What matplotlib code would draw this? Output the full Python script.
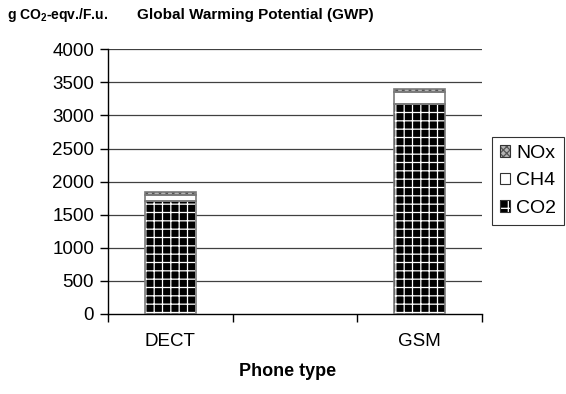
#!/usr/bin/env python3
"""Global Warming Potential per phone type, stacked CO2 / CH4 / NOx."""
import matplotlib
matplotlib.use("Agg")
import matplotlib.pyplot as plt
from matplotlib.patches import Patch
from matplotlib.legend_handler import HandlerTuple

plt.rcParams["font.family"] = ["Liberation Sans", "DejaVu Sans"]
plt.rcParams["mathtext.fontset"] = "custom"
plt.rcParams["mathtext.rm"] = "Liberation Sans"
plt.rcParams["mathtext.bf"] = "Liberation Sans:bold"
plt.rcParams["hatch.linewidth"] = 0.9

phones = ["DECT", "GSM"]
co2 = [1710, 3170]
ch4 = [86, 180]
nox = [41, 50]
yticks = [0, 500, 1000, 1500, 2000, 2500, 3000, 3500, 4000]

# DECT and GSM sit in the outer slots of a three-slot category axis
slots = [0, 2]
width = 0.41
outline = "#7a7a7a"

fig = plt.figure(figsize=(5.66, 3.94), dpi=100)
ax = fig.add_axes([108 / 566, 80 / 394, 374 / 566, 264.7 / 394])

bottom_ch4 = co2
bottom_nox = [a + b for a, b in zip(co2, ch4)]

ax.bar(slots, co2, width, color="black", edgecolor="white", hatch="++", linewidth=0, zorder=3)
ax.bar(slots, ch4, width, bottom=bottom_ch4, color="white", linewidth=0, zorder=3)
ax.bar(slots, nox, width, bottom=bottom_nox, color="#b5b5b5", edgecolor="#555555",
       hatch="xxxxx", linewidth=0, zorder=3)
for vals, bot in [(co2, None), (ch4, bottom_ch4), (nox, bottom_nox)]:
    ax.bar(slots, vals, width, bottom=bot, fill=False, edgecolor=outline, linewidth=1.2, zorder=4)

ax.set_ylim(0, 4000)
ax.set_xlim(-0.5, 2.5)
ax.set_yticks(yticks)
ax.set_yticklabels([str(v) for v in yticks])
ax.set_xticks(slots)
ax.set_xticklabels(phones)
ax.set_xticks([-0.5, 0.5, 1.5, 2.5], minor=True)
ax.tick_params(axis="x", which="major", length=0, pad=14, labelsize=13.5)
ax.tick_params(axis="x", which="minor", length=6, width=1, direction="out")
ax.tick_params(axis="y", length=6, width=1, pad=4, labelsize=13.5)

for v in yticks[1:]:
    ax.axhline(v, color="#404040", linewidth=0.9, zorder=1)

for s in ["top", "right"]:
    ax.spines[s].set_visible(False)
for s in ["left", "bottom"]:
    ax.spines[s].set_color("black")
    ax.spines[s].set_linewidth(1)

fig.text(7 / 566, 1 - 15 / 394, r"g CO$_{\mathbf{2}}$-eqv./F.u.", fontsize=10, fontweight="bold",
         ha="left", va="center")
fig.text(137 / 566, 1 - 15 / 394, "Global Warming Potential (GWP)", fontsize=11,
         fontweight="bold", ha="left", va="center")
fig.text(288 / 566, 1 - 372 / 394, "Phone type", fontsize=13, fontweight="bold",
         ha="center", va="center")

def handle(face, hatch_color, hatch):
    fill = Patch(facecolor=face, edgecolor=hatch_color, hatch=hatch, linewidth=0)
    edge = Patch(fill=False, edgecolor="#333333", linewidth=0.8)
    return (fill, edge)

handles = [handle("#b5b5b5", "#555555", "xxxxx"), handle("white", "white", None),
           handle("black", "white", "+")]
leg = fig.legend(handles, ["NOx", "CH4", "CO2"], loc="upper left",
                 bbox_to_anchor=(492 / 566, 1 - 137 / 394), bbox_transform=fig.transFigure,
                 borderaxespad=0, fancybox=False, edgecolor="black", fontsize=14,
                 handlelength=0.55, handleheight=0.55, handletextpad=0.3, labelspacing=0.55,
                 borderpad=0.4, handler_map={tuple: HandlerTuple(ndivide=1, pad=0)})
leg.get_frame().set_linewidth(0.8)

fig.savefig("out.png", dpi=100)
